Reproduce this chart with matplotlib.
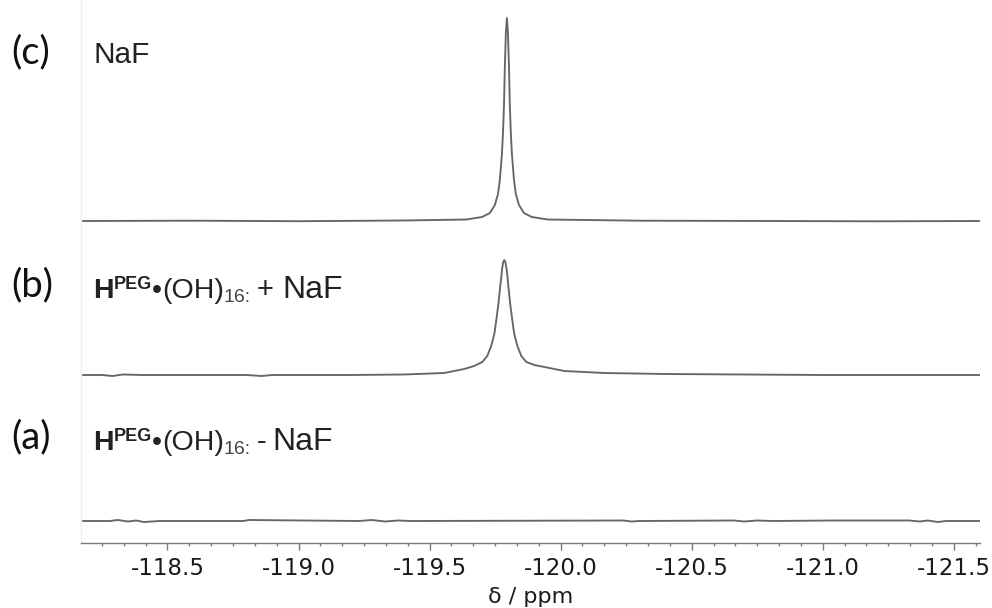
import matplotlib
matplotlib.use("Agg")
import matplotlib.pyplot as plt
from matplotlib.ticker import MultipleLocator

# ---------------- data ----------------
# (c) NaF
ppm_c = [-118.17, -118.6, -119.0, -119.4, -119.64, -119.70, -119.73, -119.749,
         -119.761, -119.768, -119.776, -119.780, -119.784, -119.787, -119.791,
         -119.795, -119.799, -119.803, -119.806, -119.810, -119.814, -119.822,
         -119.829, -119.841, -119.86, -119.89, -119.95, -120.3, -120.8, -121.2,
         -121.60]
int_c = [0, 0.3, -0.2, 0.5, 1.5, 4, 8, 16,
         27, 41, 67, 88, 117, 153, 188,
         203, 188, 153, 117, 88, 67, 41,
         27, 16, 8, 4, 1.5, 0.3, 0, -0.3,
         0]

# (b) H^PEG•(OH)16 + NaF
ppm_b = [-118.17, -118.25, -118.29, -118.33, -118.40, -118.45, -118.60, -118.80,
         -118.86, -118.90, -119.00, -119.20, -119.403, -119.556, -119.632,
         -119.670, -119.701, -119.720, -119.735, -119.747, -119.754, -119.762,
         -119.766, -119.770, -119.774, -119.777, -119.781, -119.785, -119.789,
         -119.793, -119.797, -119.800, -119.804, -119.808, -119.816, -119.823,
         -119.835, -119.850, -119.869, -119.900, -119.938, -120.014, -120.167,
         -120.40, -120.70, -121.00, -121.30, -121.60]
int_b = [0, 0, -1, 0.5, 0, 0, 0, 0,
         -1, 0, 0, 0, 0.5, 2, 6,
         9, 13, 19, 29, 41, 54, 70,
         80, 90, 99, 107, 113, 115, 113,
         107, 99, 90, 80, 70, 54, 41,
         29, 19, 13, 10, 8, 4, 2,
         1, 0.5, 0, 0, 0]

# (a) H^PEG•(OH)16 - NaF
ppm_a = [-118.17, -118.28, -118.31, -118.35, -118.38, -118.41, -118.47, -118.79,
         -118.81, -119.23, -119.28, -119.33, -119.38, -119.43, -120.24, -120.27,
         -120.30, -120.66, -120.70, -120.75, -120.81, -121.04, -121.33, -121.37,
         -121.40, -121.44, -121.47, -121.60]
int_a = [0, 0, 1, -0.5, 0.5, -1, 0, 0,
         1, 0, 1, -0.5, 0.5, 0, 0.5, -0.5,
         0, 0.5, -0.5, 0.5, 0, 0.5, 0.5, -0.5,
         0.5, -1, 0, 0]

major_ticks = [-118.5, -119.0, -119.5, -120.0, -120.5, -121.0, -121.5]
tick_labels = ["-118.5", "-119.0", "-119.5", "-120.0", "-120.5", "-121.0", "-121.5"]

panel_letters = ["(c)", "(b)", "(a)"]

# ---------------- layout ----------------
W, H = 992, 608
fig = plt.figure(figsize=(W / 100, H / 100), dpi=100)
ax_left, ax_right, ax_bottom_px = 81, 980, 543
ax = fig.add_axes([ax_left / W, (H - ax_bottom_px) / H,
                   (ax_right - ax_left) / W, ax_bottom_px / H])
ax.set_xlim(-118.17, -121.60)
ax.set_ylim(0, ax_bottom_px)

offset_c, offset_b, offset_a = 322, 168, 22
line_kw = dict(color="#666666", lw=1.35, solid_joinstyle="round")
ax.plot(ppm_c, [v + offset_c for v in int_c], **line_kw)
ax.plot(ppm_b, [v + offset_b for v in int_b], **line_kw)
ax.plot(ppm_a, [v + offset_a for v in int_a], **line_kw)

for s in ("top", "right"):
    ax.spines[s].set_visible(False)
ax.spines["left"].set_color("#f0f0f0")
ax.spines["left"].set_linewidth(1.0)
ax.spines["bottom"].set_color("#7a7a7a")
ax.spines["bottom"].set_linewidth(1.0)
ax.set_yticks([])

ax.set_xticks(major_ticks)
ax.set_xticklabels(tick_labels, fontfamily="DejaVu Sans", fontsize=16.5, color="#1a1a1a")
ax.xaxis.set_minor_locator(MultipleLocator(0.5 / 6))
ax.tick_params(axis="x", which="major", direction="out", length=5, width=1,
               color="#7a7a7a", pad=5)
ax.tick_params(axis="x", which="minor", direction="out", length=2.5, width=1,
               color="#7a7a7a")
ax.set_xlabel("δ / ppm", fontfamily="DejaVu Sans", fontsize=16, color="#1a1a1a",
              labelpad=5)

for lab, y in zip(panel_letters, (52, 285, 437)):
    fig.text(11 / W, 1 - y / H, lab, fontfamily="Lato", fontsize=27.5,
             color="#111111", va="center", ha="left")

renderer = fig.canvas.get_renderer()


def rich_label(x_px, base_px, pieces):
    """Draw text pieces one after another.
    Each piece: (text, size, weight, dy_px, color, gap_before_px)."""
    x = x_px
    for txt, size, weight, dy, col, gap in pieces:
        x += gap
        t = fig.text(x / W, 1 - (base_px - dy) / H, txt, fontfamily="Liberation Sans",
                     fontsize=size, fontweight=weight, color=col,
                     va="baseline", ha="left")
        bb = t.get_window_extent(renderer=renderer)
        x += bb.width


dark = "#222222"
fig.text(93 / W, 1 - 63 / H, "NaF", fontfamily="Liberation Sans", fontsize=21.5,
         color=dark, va="baseline", ha="left")

for base, sign, gap1, gap2 in ((298, "+", 6, 9), (450, "-", 6, 6)):
    rich_label(93, base, [
        ("H", 20.5, "bold", 0, dark, 0),
        ("PEG", 13, "bold", 9, dark, 0),
        ("•", 20.5, "normal", 0, dark, 0),
        ("(OH)", 20.5, "normal", 0, dark, 0),
        ("16:", 14, "normal", -4, "#444444", 0),
        (sign, 21, "normal", 0, dark, gap1),
        ("NaF", 23, "normal", 0, dark, gap2),
    ])

fig.savefig("out.png", dpi=100, facecolor="white")
